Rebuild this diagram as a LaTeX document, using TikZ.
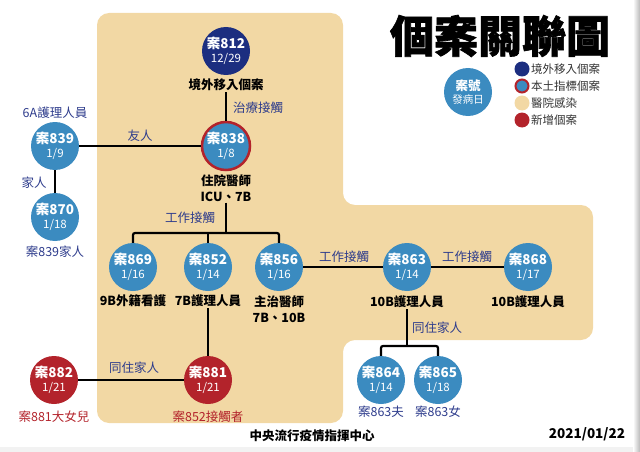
\documentclass[tikz,border=0pt]{standalone}
\usepackage{fontspec}
\setmainfont{Noto Sans CJK TC}
\newfontfamily\titlefont[FakeBold=1.5]{Noto Sans CJK TC}
\usetikzlibrary{positioning}
\definecolor{beige}{HTML}{F2D8A4}
\definecolor{abroadblue}{HTML}{1C2E80}
\definecolor{caseblue}{HTML}{3B8BC0}
\definecolor{casered}{HTML}{B3232B}
\definecolor{relblue}{HTML}{2E3C8C}
\definecolor{keygray}{HTML}{333333}
\newcommand{\caseno}[2]{{\fontsize{13.5}{14}\selectfont\bfseries 案#1}\\[1.5pt]{\fontsize{11.5}{12}\selectfont #2}}
\tikzset {
  case/.style = {
    circle,
    fill = caseblue,
    text = white,
    minimum size = 48pt,
    inner sep = 0,
    align = center
  },
  % imported case
  abroad/.style = {
    case,
    fill = abroadblue
  },
  % index case
  local/.style = {
    case,
    draw = casered,
    line width = 2.5pt
  },
  % new case
  newcase/.style = {
    case,
    fill = casered
  },
  tag/.style = {
    font = \fontsize{12.5}{16}\selectfont\bfseries,
    align = center,
    inner sep = 1pt
  },
  reltag/.style = {
    tag,
    font = \fontsize{12.5}{16}\selectfont,
    text = relblue
  },
  newtag/.style = {
    tag,
    font = \fontsize{12.5}{16}\selectfont,
    text = casered
  },
  keydot/.style = {
    circle,
    minimum size = 15pt,
    inner sep = 0
  },
  keytext/.style = {
    anchor = west,
    inner sep = 0,
    text = keygray,
    font = \fontsize{11.5}{13}\selectfont
  },
  link/.style = {
    draw = black,
    line width = 2.2pt,
    rounded corners = 2pt
  },
  on grid
}

\begin{document}
\begin{tikzpicture}[x=1pt, y=-1pt]
    \useasboundingbox (0,0) rectangle (640,452);
    \shade[left color=white, right color=gray!55] (633,0) rectangle (640,452);
    \fill[gray!10] (0,447) rectangle (633,452);

    % hospital area
    \fill[beige, rounded corners=12pt] (97,13) -- (343,13) -- (343,205)
    -- (593,205) -- (593,340) -- (343,340) -- (343,423) -- (97,423) -- cycle;

    \node[font=\titlefont\bfseries\fontsize{44}{48}\selectfont] (title) at (500,36) {個案關聯圖};

    % legend
    \node[case] (key) at (468,92)
      {{\fontsize{12.5}{14}\selectfont\bfseries 案號}\\[1pt]{\fontsize{10.5}{12}\selectfont 發病日}};
    \node[keydot, fill=abroadblue] (k1) at (522,69) {};
    \node[keydot, fill=caseblue, draw=casered, line width=2pt, minimum size=13pt] (k2) [below=17pt of k1] {};
    \node[keydot, fill=beige] (k3) [below=17pt of k2] {};
    \node[keydot, fill=casered] (k4) [below=17pt of k3] {};
    \node[keytext] (l1) at (531,69) {境外移入個案};
    \node[keytext] (l2) at (531,86) {本土指標個案};
    \node[keytext] (l3) at (531,103) {醫院感染};
    \node[keytext] (l4) at (531,120) {新增個案};

    % cases
    \node[abroad] (c812) at (226,51) {\caseno{812}{12/29}};
    \node[local] (c838) [below=95pt of c812] {\caseno{838}{1/8}};
    \node[case] (c839) [left=171pt of c838] {\caseno{839}{1/9}};
    \node[case] (c870) [below=71pt of c839] {\caseno{870}{1/18}};
    \node[case] (c852) [below left=121pt and 18pt of c838] {\caseno{852}{1/14}};
    \node[case] (c869) [left=75pt of c852] {\caseno{869}{1/16}};
    \node[case] (c856) [right=71pt of c852] {\caseno{856}{1/16}};
    \node[case] (c863) [right=128pt of c856] {\caseno{863}{1/14}};
    \node[case] (c868) [right=121pt of c863] {\caseno{868}{1/17}};
    \node[newcase] (c881) [below=113pt of c852] {\caseno{881}{1/21}};
    \node[newcase] (c882) [left=154pt of c881] {\caseno{882}{1/21}};
    \node[case] (c864) [below left=113pt and 26pt of c863] {\caseno{864}{1/14}};
    \node[case] (c865) [right=57pt of c864] {\caseno{865}{1/18}};

    % case tags
    \node[tag] (t812) [below=34pt of c812] {境外移入個案};
    \node[tag] (t838) [below=42pt of c838] {住院醫師\\ICU、7B};
    \node[reltag] (t839) [above=33pt of c839] {6A護理人員};
    \node[reltag] (t870) [below=35pt of c870] {案839家人};
    \node[tag] (t869) [below=34pt of c869] {9B外籍看護};
    \node[tag] (t852) [below=34pt of c852] {7B護理人員};
    \node[tag] (t856) [below=42pt of c856] {主治醫師\\7B、10B};
    \node[tag] (t863) [below=35pt of c863] {10B護理人員};
    \node[tag] (t868) [below=35pt of c868] {10B護理人員};
    \node[newtag] (t882) [below=37pt of c882] {案881大女兒};
    \node[newtag] (t881) [below=37pt of c881] {案852接觸者};
    \node[reltag] (t864) [below=32pt of c864] {案863夫};
    \node[reltag] (t865) [below=32pt of c865] {案863女};

    % relations
    \node[reltag] (r812) at (258,108) {治療接觸};
    \node[reltag] (r839) at (140,136) {友人};
    \node[reltag] (r870) at (34,183) {家人};
    \node[reltag] (r838) at (190,218) {工作接觸};
    \node[reltag] (r881) at (134,368) {同住家人};
    \node[reltag] (r856) at (344,257) {工作接觸};
    \node[reltag] (r863) at (467,257) {工作接觸};
    \node[reltag] (r864) at (437,328) {同住家人};

    \node[tag] (src) at (312,436) {中央流行疫情指揮中心};
    \node[tag, font=\fontsize{13.5}{16}\selectfont\bfseries] (date) at (587,434) {2021/01/22};

    \coordinate (b838) at (226,233);
    \coordinate (b863) at (407,346);

    \draw[link] (t812) -- (c838);
    \draw[link] (c839) -- (c838);
    \draw[link] (c839) -- (c870);
    \draw[link] (t838) -- (b838);
    \draw[link] (c869)
    |- (b838)
    -| (c856);
    \draw[link] (c852) -- (c852 |- b838);
    \draw[link] (t852) -- (c881);
    \draw[link] (c882) -- (c881);
    \draw[link] (c856) -- (c863);
    \draw[link] (c863) -- (c868);
    \draw[link] (t863) -- (b863);
    \draw[link] (c864)
    |- (b863)
    -| (c865);
  \end{tikzpicture}
\end{document}
